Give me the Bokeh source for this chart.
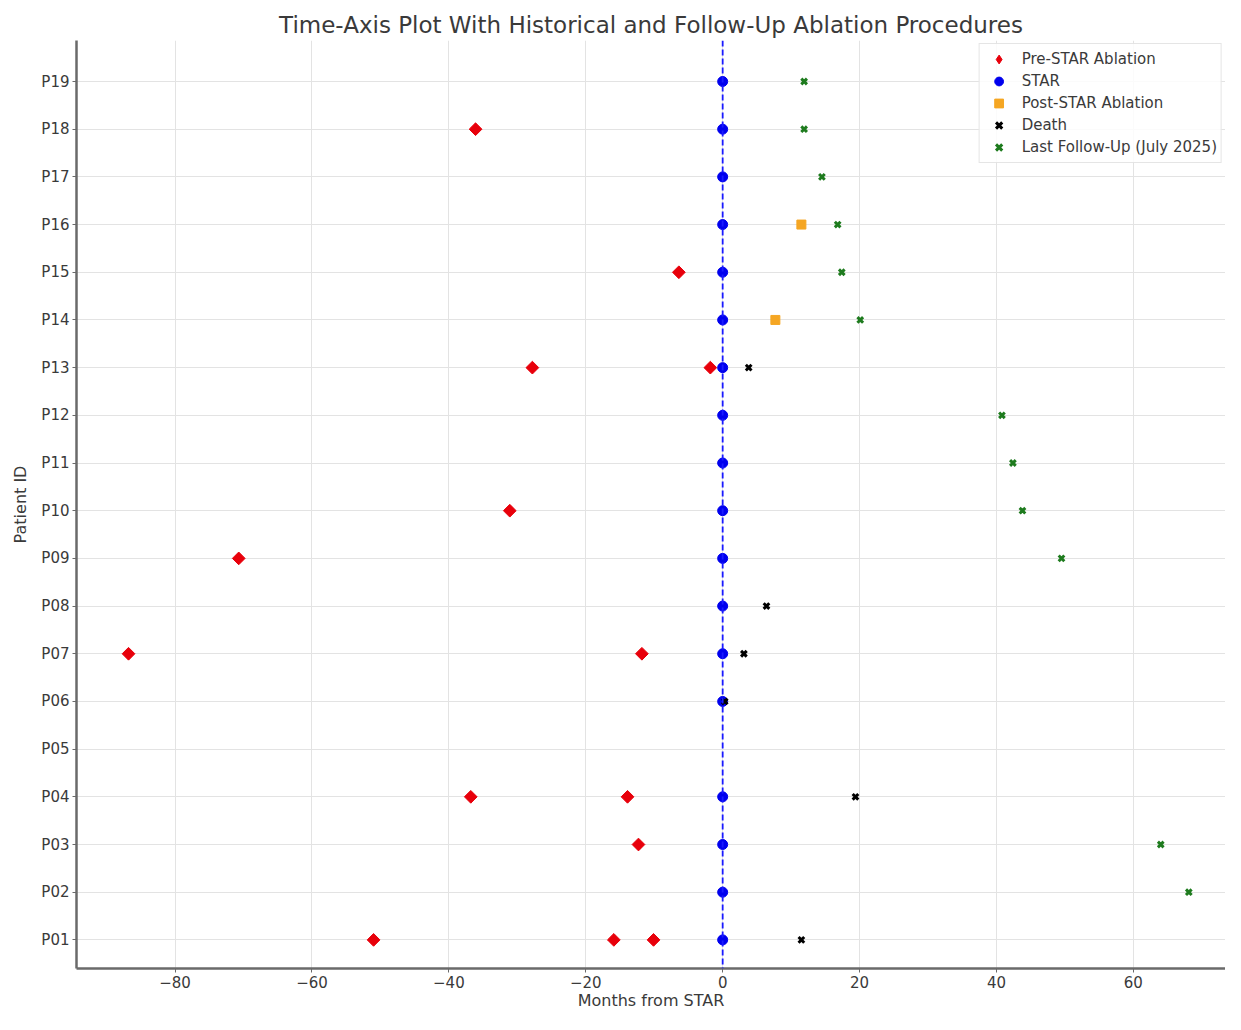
from bokeh.plotting import figure
from bokeh.models import FixedTicker, Span, Legend, LegendItem, ColumnDataSource
from bokeh.embed import file_html
from bokeh.resources import INLINE

# ---------------- data ----------------
patients = ["P01", "P02", "P03", "P04", "P05", "P06", "P07", "P08", "P09", "P10",
            "P11", "P12", "P13", "P14", "P15", "P16", "P17", "P18", "P19"]

pre_patients = ["P01", "P01", "P01", "P03", "P04", "P04", "P07", "P07", "P09", "P10",
                "P13", "P13", "P15", "P18"]
pre_months = [-51.0, -15.9, -10.1, -12.3, -36.8, -13.9, -86.8, -11.8, -70.7, -31.1,
              -27.8, -1.8, -6.4, -36.1]

star_patients = ["P01", "P02", "P03", "P04", "P06", "P07", "P08", "P09", "P10",
                 "P11", "P12", "P13", "P14", "P15", "P16", "P17", "P18", "P19"]
star_months = [0] * len(star_patients)

post_patients = ["P14", "P16"]
post_months = [7.7, 11.5]

death_patients = ["P01", "P04", "P06", "P07", "P08", "P13"]
death_months = [11.5, 19.4, 0.3, 3.1, 6.4, 3.8]

fu_patients = ["P02", "P03", "P09", "P10", "P11", "P12", "P14", "P15", "P16", "P17", "P18", "P19"]
fu_months = [68.1, 64.0, 49.5, 43.8, 42.4, 40.8, 20.1, 17.4, 16.8, 14.5, 11.9, 11.9]

x_ticks = [-80, -60, -40, -20, 0, 20, 40, 60]

# ---------------- figure ----------------
FONT = "DejaVu Sans"
TXT = "#3a3a3a"

idx = {p: i for i, p in enumerate(patients)}

p = figure(frame_width=1149, frame_height=928,
           x_range=(-94.4, 73.46), y_range=(-0.6, 18.86),
           output_backend="svg", toolbar_location=None,
           min_border_left=76, min_border_right=0, min_border_top=40, min_border_bottom=46,
           title="Time-Axis Plot With Historical and Follow-Up Ablation Procedures")

p.title.text_font = FONT
p.title.text_font_size = "23px"
p.title.text_font_style = "normal"
p.title.text_color = TXT
p.title.align = "center"
p.title.standoff = 6

p.outline_line_color = None
p.background_fill_color = "white"
p.border_fill_color = "white"

# axes
p.xaxis.ticker = FixedTicker(ticks=x_ticks)
p.xaxis.major_label_overrides = {t: (("\u2212" + str(-t)) if t < 0 else str(t)) for t in x_ticks}
p.yaxis.ticker = FixedTicker(ticks=list(range(len(patients))))
p.yaxis.major_label_overrides = {i: name for i, name in enumerate(patients)}

for ax in (p.xaxis[0], p.yaxis[0]):
    ax.axis_line_color = "#6a6a6a"
    ax.axis_line_width = 2.5
    ax.major_tick_line_color = "#6a6a6a"
    ax.major_tick_out = 4
    ax.major_tick_in = 0
    ax.minor_tick_line_color = None
    ax.major_label_text_font = FONT
    ax.major_label_text_font_size = "15px"
    ax.major_label_text_color = TXT
    ax.axis_label_text_font = FONT
    ax.axis_label_text_font_size = "16px"
    ax.axis_label_text_font_style = "normal"
    ax.axis_label_text_color = TXT
    ax.major_label_standoff = 3

p.xaxis.axis_label = "Months from STAR"
p.yaxis.axis_label = "Patient ID"
p.xaxis.axis_label_standoff = 0
p.yaxis.axis_label_standoff = 8

p.xgrid.ticker = FixedTicker(ticks=x_ticks)
p.ygrid.ticker = FixedTicker(ticks=list(range(len(patients))))
p.grid.grid_line_color = "#e3e3e3"
p.grid.grid_line_width = 1

# vertical dashed line at STAR
p.add_layout(Span(location=0, dimension="height", line_color="#1a1aff",
                  line_dash="6 3", line_width=1.8))

src_pre = ColumnDataSource(dict(x=pre_months, y=[idx[q] for q in pre_patients]))
src_star = ColumnDataSource(dict(x=star_months, y=[idx[q] for q in star_patients]))
src_post = ColumnDataSource(dict(x=post_months, y=[idx[q] for q in post_patients]))
src_death = ColumnDataSource(dict(x=death_months, y=[idx[q] for q in death_patients]))
src_fu = ColumnDataSource(dict(x=fu_months, y=[idx[q] for q in fu_patients]))

r_pre = p.scatter("x", "y", source=src_pre, marker="square", angle=0.785398, size=9,
                  fill_color="#e8000b", line_color="#e8000b")
# legend-only glyph (NaN position, draws nothing in the plot) so the legend shows a diamond
src_pre_leg = ColumnDataSource(dict(x=[float("nan")], y=[float("nan")]))
r_pre_leg = p.scatter("x", "y", source=src_pre_leg, marker="diamond", size=15,
                      fill_color="#e8000b", line_color="#e8000b")
r_star = p.scatter("x", "y", source=src_star, marker="circle", size=10,
                   fill_color="#0000ee", line_color="#0000ee")
r_post = p.scatter("x", "y", source=src_post, marker="square", size=9,
                   fill_color="#f5a623", line_color="#f5a623")
r_death = p.scatter("x", "y", source=src_death, marker="x", size=8,
                    line_color="black", line_width=3)
r_fu = p.scatter("x", "y", source=src_fu, marker="x", size=8,
                 line_color="#1e7b1e", line_width=3)

legend = Legend(items=[
    LegendItem(label="Pre-STAR Ablation", renderers=[r_pre_leg]),
    LegendItem(label="STAR", renderers=[r_star]),
    LegendItem(label="Post-STAR Ablation", renderers=[r_post]),
    LegendItem(label="Death", renderers=[r_death]),
    LegendItem(label="Last Follow-Up (July 2025)", renderers=[r_fu]),
], location="top_right")
legend.label_text_font = FONT
legend.label_text_font_size = "15px"
legend.label_text_color = TXT
legend.label_height = 22
legend.glyph_height = 22
legend.glyph_width = 30
legend.spacing = 0
legend.padding = 4
legend.margin = 3
legend.label_standoff = 8
legend.border_line_color = "#cccccc"
legend.background_fill_alpha = 0.85
p.add_layout(legend)

open("out.html", "w").write(file_html(p, INLINE))
